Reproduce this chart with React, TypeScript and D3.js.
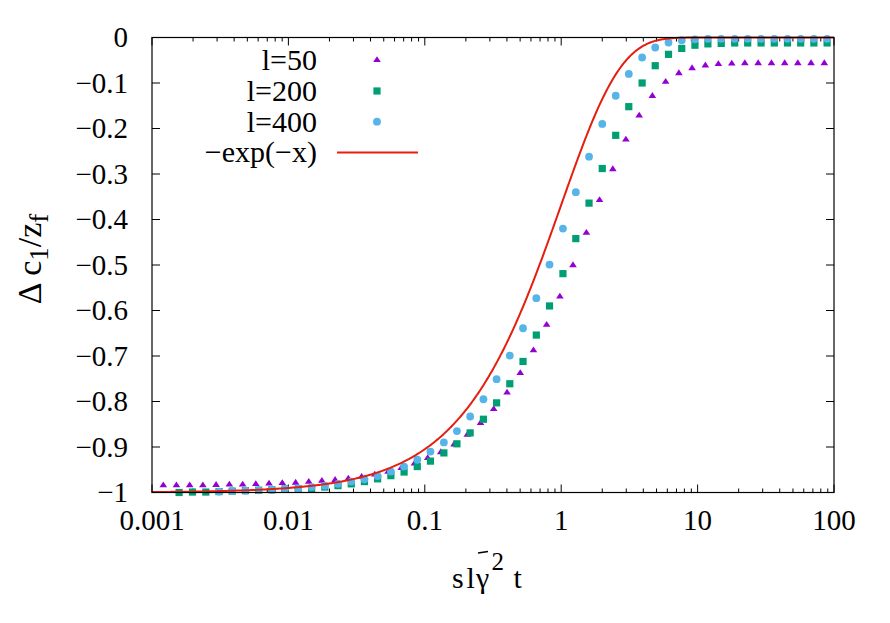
import React from 'react';
import * as d3 from 'd3';

// l=50 (triangles)
const xL50 = [0.00121, 0.00151, 0.00189, 0.00236, 0.00295, 0.00369, 0.00462, 0.00577, 0.00721, 0.00902,
  0.0113, 0.0141, 0.0176, 0.0220, 0.0275, 0.0344, 0.0430, 0.0538, 0.0672, 0.0840,
  0.105, 0.131, 0.164, 0.205, 0.256, 0.320, 0.401, 0.501, 0.626, 0.782,
  0.978, 1.22, 1.53, 1.91, 2.39, 2.98, 3.73, 4.66, 5.83, 7.29,
  9.11, 11.4, 14.2, 17.8, 22.2, 27.8, 34.8, 43.5, 54.3, 67.9, 84.9];
const yL50 = [-0.983, -0.983, -0.983, -0.983, -0.982, -0.981, -0.981, -0.980, -0.979, -0.978,
  -0.977, -0.975, -0.973, -0.971, -0.968, -0.964, -0.959, -0.953, -0.945, -0.935,
  -0.923, -0.910, -0.893, -0.872, -0.846, -0.815, -0.779, -0.736, -0.686, -0.630,
  -0.568, -0.499, -0.428, -0.356, -0.288, -0.223, -0.170, -0.127, -0.096, -0.077,
  -0.066, -0.060, -0.057, -0.056, -0.055, -0.055, -0.055, -0.055, -0.055, -0.055, -0.055];

// l=200 (squares)
const xL200 = [0.00158, 0.00198, 0.00248, 0.00310, 0.00387, 0.00484, 0.00605, 0.00756, 0.00945, 0.0118,
  0.0148, 0.0185, 0.0231, 0.0289, 0.0361, 0.0451, 0.0564, 0.0705, 0.0881, 0.110,
  0.138, 0.172, 0.215, 0.269, 0.336, 0.420, 0.525, 0.657, 0.821, 1.03,
  1.28, 1.60, 2.00, 2.51, 3.13, 3.92, 4.89, 6.12, 7.65, 9.56,
  11.9, 14.9, 18.7, 23.3, 29.2, 36.5, 45.6, 57.0, 71.2, 89.0];
const yL200 = [-1.000, -0.999, -0.999, -0.998, -0.997, -0.996, -0.995, -0.994, -0.992, -0.992,
  -0.991, -0.988, -0.985, -0.981, -0.976, -0.970, -0.963, -0.955, -0.943, -0.931,
  -0.913, -0.893, -0.869, -0.839, -0.803, -0.761, -0.712, -0.654, -0.590, -0.519,
  -0.442, -0.364, -0.288, -0.215, -0.152, -0.100, -0.062, -0.037, -0.024, -0.017,
  -0.014, -0.013, -0.012, -0.012, -0.012, -0.012, -0.012, -0.012, -0.012, -0.012];

// l=400 (circles)
const xL400 = [0.00310, 0.00387, 0.00484, 0.00605, 0.00756, 0.00945, 0.0118,
  0.0148, 0.0185, 0.0231, 0.0289, 0.0361, 0.0451, 0.0564, 0.0705, 0.0881, 0.110,
  0.138, 0.172, 0.215, 0.269, 0.336, 0.420, 0.525, 0.657, 0.821, 1.03,
  1.28, 1.60, 2.00, 2.51, 3.13, 3.92, 4.89, 6.12, 7.65, 9.56,
  11.9, 14.9, 18.7, 23.3, 29.2, 36.5, 45.6, 57.0, 71.2, 89.0];
const yL400 = [-0.998, -0.997, -0.996, -0.995, -0.994, -0.992, -0.991,
  -0.988, -0.985, -0.981, -0.976, -0.971, -0.964, -0.954, -0.943, -0.928, -0.910,
  -0.890, -0.865, -0.833, -0.795, -0.751, -0.699, -0.639, -0.573, -0.499, -0.420,
  -0.340, -0.262, -0.190, -0.128, -0.080, -0.044, -0.022, -0.011, -0.006, -0.004,
  -0.003, -0.003, -0.003, -0.003, -0.003, -0.003, -0.003, -0.003, -0.003, -0.003];

const xTicks = [0.001, 0.01, 0.1, 1, 10, 100];
const xTickLabels = ['0.001', '0.01', '0.1', '1', '10', '100'];
const yTicks = [0, -0.1, -0.2, -0.3, -0.4, -0.5, -0.6, -0.7, -0.8, -0.9, -1];
const yTickLabels = ['0', '\u22120.1', '\u22120.2', '\u22120.3', '\u22120.4', '\u22120.5',
  '\u22120.6', '\u22120.7', '\u22120.8', '\u22120.9', '\u22121'];
const legendLabels = ['l=50', 'l=200', 'l=400', '\u2212exp(\u2212x)'];

const W = 890;
const H = 623;
const L = 152, R = 834, T = 37.5, B = 492.5;

const purple = '#9400d3';
const green = '#009e73';
const blue = '#56b4e9';
const red = '#e51e10';

const tri = (cx: number, cy: number) =>
  `M${cx},${cy - 3.2}L${cx + 3.8},${cy + 2.6}L${cx - 3.8},${cy + 2.6}Z`;

const font = (size: number) => ({ fontFamily: 'Liberation Serif', fontSize: size }) as React.CSSProperties;

export default function App() {
  const x = d3.scaleLog().domain([0.001, 100]).range([L, R]);
  const y = d3.scaleLinear().domain([-1, 0]).range([B, T]);

  const minor: number[] = [];
  xTicks.slice(0, -1).forEach((d) => {
    for (let m = 2; m <= 9; m++) minor.push(d * m);
  });

  // analytic curve -exp(-x)
  const xs = d3.range(0, 601).map((i) => Math.pow(10, -3 + (i * 5) / 600));
  const curve = d3.line<number>()
    .x((d) => x(d))
    .y((d) => y(-Math.exp(-d)))(xs);

  const legX = 317;
  const legBase = [70, 101, 132, 162];
  const mx = 377;

  return (
    <svg width={W} height={H} style={{ position: 'absolute', left: 0, top: 0, background: '#fff' }}>
      <rect width={W} height={H} fill="#fff" />

      {/* ticks */}
      <g stroke="#000" strokeWidth={1}>
        {yTicks.map((t) => (
          <g key={'y' + t}>
            <line x1={L} x2={L + 8} y1={y(t)} y2={y(t)} />
            <line x1={R} x2={R - 8} y1={y(t)} y2={y(t)} />
          </g>
        ))}
        {xTicks.map((t) => (
          <g key={'x' + t}>
            <line x1={x(t)} x2={x(t)} y1={B} y2={B - 8} />
            <line x1={x(t)} x2={x(t)} y1={T} y2={T + 8} />
          </g>
        ))}
        {minor.map((t) => (
          <g key={'m' + t}>
            <line x1={x(t)} x2={x(t)} y1={B} y2={B - 4} />
            <line x1={x(t)} x2={x(t)} y1={T} y2={T + 4} />
          </g>
        ))}
      </g>

      {/* tick labels */}
      <g fill="#000">
        {yTicks.map((t, i) => (
          <text key={'yl' + t} x={128} y={y(t) + 9.5} textAnchor="end" style={font(29)}>{yTickLabels[i]}</text>
        ))}
        {xTicks.map((t, i) => (
          <text key={'xl' + t} x={x(t)} y={530} textAnchor="middle" style={font(29)}>{xTickLabels[i]}</text>
        ))}
      </g>

      {/* axis titles */}
      <text transform="translate(41,259) rotate(-90)" textAnchor="middle" style={font(34)}>
        {'\u0394 c'}<tspan style={{ fontSize: 27 }} dy={7}>1</tspan>
        <tspan dy={-7}>/z</tspan><tspan style={{ fontSize: 27 }} dy={7}>f</tspan>
      </text>
      <text x={452} y={588} style={font(30)}>s</text>
      <text x={466.5} y={588} style={font(30)}>l</text>
      <text x={476} y={588} style={font(30)}>{'\u03b3'}</text>
      <line x1={478} x2={488} y1={553} y2={551.5} stroke="#000" strokeWidth={1.6} />
      <text x={491.5} y={570} style={font(25)}>2</text>
      <text x={513.5} y={588} style={font(30)}>t</text>

      {/* series */}
      <g fill={purple}>
        {xL50.map((d, i) => <path key={'a' + i} d={tri(x(d), y(yL50[i]))} />)}
      </g>
      <g fill={green}>
        {xL200.map((d, i) => (
          <rect key={'b' + i} x={x(d) - 3.6} y={y(yL200[i]) - 3.6} width={7.2} height={7.2} />
        ))}
      </g>
      <g fill={blue}>
        {xL400.map((d, i) => <circle key={'c' + i} cx={x(d)} cy={y(yL400[i])} r={3.9} />)}
      </g>
      <path d={curve ?? ''} fill="none" stroke={red} strokeWidth={2} />

      {/* frame */}
      <rect x={L} y={T} width={R - L} height={B - T} fill="none" stroke="#000" strokeWidth={1.2} />

      {/* legend */}
      <g>
        {legendLabels.map((lab, i) => (
          <text key={lab} x={legX} y={legBase[i]} textAnchor="end" style={font(30)}>{lab}</text>
        ))}
        <path d={tri(mx, legBase[0] - 10.5)} fill={purple} />
        <rect x={mx - 3.6} y={legBase[1] - 10 - 3.6} width={7.2} height={7.2} fill={green} />
        <circle cx={mx} cy={legBase[2] - 10.3} r={3.9} fill={blue} />
        <line x1={337} x2={418} y1={legBase[3] - 9.5} y2={legBase[3] - 9.5} stroke={red} strokeWidth={2} />
      </g>
    </svg>
  );
}
